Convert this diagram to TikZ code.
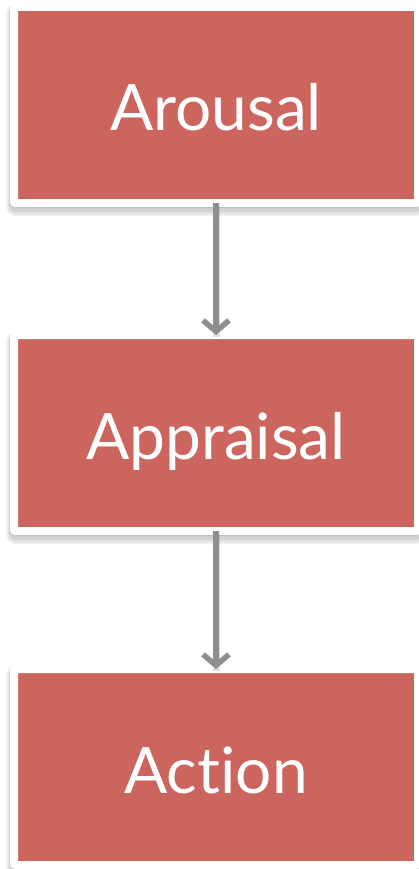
\documentclass[tikz,border=0pt]{standalone}
\usepackage{fontspec}
\setmainfont{Lato}[Ligatures={NoCommon,NoDiscretionary}]
\usetikzlibrary{arrows.meta}
\definecolor{boxred}{RGB}{203,101,94}
\definecolor{arrowgrey}{RGB}{142,142,142}
\tikzset{
  softshadow/.style={
    preaction={draw=black, fill=black, draw opacity=.05, fill opacity=.05, line width=16pt, transform canvas={yshift=-5pt}},
    preaction={draw=black, fill=black, draw opacity=.06, fill opacity=.06, line width=13pt, transform canvas={yshift=-5pt}},
    preaction={draw=black, fill=black, draw opacity=.08, fill opacity=.08, line width=10pt, transform canvas={yshift=-4pt}}},
  stage/.style={softshadow, rectangle, rounded corners=2pt, fill=boxred, draw=white, line width=8pt,
    minimum width=404pt, minimum height=196pt, inner sep=0pt,
    font=\fontsize{64}{64}\selectfont, text=white, text height=52pt, text depth=0pt},
  flow/.style={draw=arrowgrey, line width=5.5pt,
    -{Straight Barb[length=11pt, width=26pt, line width=5.5pt]},
    preaction={draw=black, draw opacity=.12, line width=7pt, transform canvas={yshift=-2pt}, -}}
}
\begin{document}
\begin{tikzpicture}[x=1pt, y=1pt]
  \useasboundingbox (0,0) rectangle (419,-869);
  \clip (0,0) rectangle (419,-869);
  \node[stage] (arousal)   at (216,-105) {Arousal};
  \node[stage] (appraisal) at (216,-433) {Appraisal};
  \node[stage] (action)    at (216,-767) {Action};
  \draw[flow, shorten <=-4pt, shorten >=-4pt] (arousal.south) -- (appraisal.north);
  \draw[flow, shorten <=-4pt, shorten >=-4pt] (appraisal.south) -- (action.north);
\end{tikzpicture}
\end{document}
